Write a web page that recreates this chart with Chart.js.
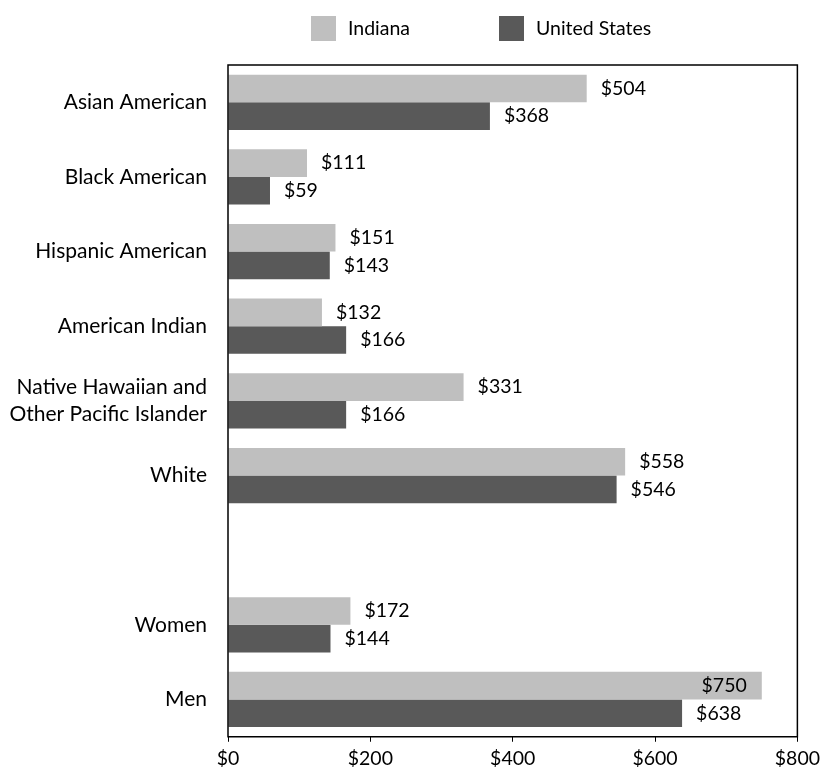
<!DOCTYPE html>
<html>
<head>
<meta charset="utf-8">
<script src="https://cdn.jsdelivr.net/npm/chart.js@4"></script>
<style>
  html, body { margin: 0; padding: 0; background: #fff; }
  #wrap { width: 822px; height: 775px; }
</style>
</head>
<body>
<div id="wrap"><canvas id="grafico"></canvas></div>
<script>
// categorias (linha vazia entre "White" e "Women")
const categories = [
    'Asian American',
    'Black American',
    'Hispanic American',
    'American Indian',
    ['Native Hawaiian and', 'Other Pacific Islander'],
    'White',
    '',
    'Women',
    'Men'
];
const indianaValues = [504, 111, 151, 132, 331, 558, null, 172, 750];
const usValues = [368, 59, 143, 166, 166, 546, null, 144, 638];
const xTicks = [0, 200, 400, 600, 800];

const FONT = 'Lato, "Open Sans", sans-serif';

// legenda desenhada à mão (caixas quadradas, bem afastadas)
const legendaTopo = {
    id: 'legendaTopo',
    afterDraw(chart) {
        const ctx = chart.ctx;
        const xs = [311, 499];
        ctx.save();
        ctx.font = '19.5px ' + FONT;
        ctx.textBaseline = 'middle';
        ctx.textAlign = 'left';
        chart.data.datasets.forEach((ds, i) => {
            ctx.fillStyle = ds.backgroundColor;
            ctx.fillRect(xs[i], 16, 25, 25);
            ctx.fillStyle = '#000';
            ctx.fillText(ds.label, xs[i] + 37, 29);
        });
        ctx.restore();
    }
};

// moldura à volta da área do gráfico
const moldura = {
    id: 'moldura',
    afterDatasetsDraw(chart) {
        const a = chart.chartArea;
        const ctx = chart.ctx;
        ctx.save();
        ctx.strokeStyle = '#000';
        ctx.lineWidth = 1.5;
        ctx.strokeRect(a.left, a.top, a.right - a.left, a.bottom - a.top);
        ctx.restore();
    }
};

// valores ao lado das barras
const valores = {
    id: 'valores',
    afterDatasetsDraw(chart) {
        const ctx = chart.ctx;
        const area = chart.chartArea;
        ctx.save();
        ctx.font = '19.5px ' + FONT;
        ctx.fillStyle = '#000';
        ctx.textBaseline = 'middle';
        chart.data.datasets.forEach((ds, i) => {
            chart.getDatasetMeta(i).data.forEach((bar, j) => {
                const v = ds.data[j];
                if (v == null) return;
                const txt = '$' + v;
                const w = ctx.measureText(txt).width;
                if (bar.x + 13 + w > area.right) {
                    ctx.textAlign = 'right';
                    ctx.fillText(txt, bar.x - 15, bar.y);
                } else {
                    ctx.textAlign = 'left';
                    ctx.fillText(txt, bar.x + 14, bar.y);
                }
            });
        });
        ctx.restore();
    }
};

const ctx = document.getElementById('grafico').getContext('2d');
new Chart(ctx, {
    type: 'bar',
    data: {
        labels: categories,
        datasets: [{
            label: 'Indiana',
            data: indianaValues,
            backgroundColor: '#BFBFBF',
            categoryPercentage: 0.74,
            barPercentage: 1.0
        }, {
            label: 'United States',
            data: usValues,
            backgroundColor: '#595959',
            categoryPercentage: 0.74,
            barPercentage: 1.0
        }]
    },
    options: {
        indexAxis: 'y',
        responsive: true,
        maintainAspectRatio: false,
        animation: false,
        layout: {
            padding: { top: 65, right: 21, bottom: 0, left: 0 }
        },
        scales: {
            x: {
                min: 0,
                max: 800,
                afterBuildTicks(scale) {
                    scale.ticks = xTicks.map(v => ({ value: v }));
                },
                grid: {
                    drawOnChartArea: false,
                    drawTicks: true,
                    tickLength: 5,
                    color: '#000'
                },
                border: { display: false },
                ticks: {
                    color: '#000',
                    padding: 2,
                    font: { family: FONT, size: 19.5, lineHeight: 1.5 },
                    callback: v => '$' + v
                }
            },
            y: {
                grid: { display: false, drawTicks: false },
                border: { display: false },
                afterFit(scale) { scale.width = 228; },
                ticks: {
                    color: '#000',
                    padding: 21,
                    font: { family: FONT, size: 21, lineHeight: 1.3 }
                }
            }
        },
        plugins: {
            legend: { display: false },
            tooltip: { enabled: false }
        }
    },
    plugins: [legendaTopo, moldura, valores]
});
</script>
</body>
</html>
